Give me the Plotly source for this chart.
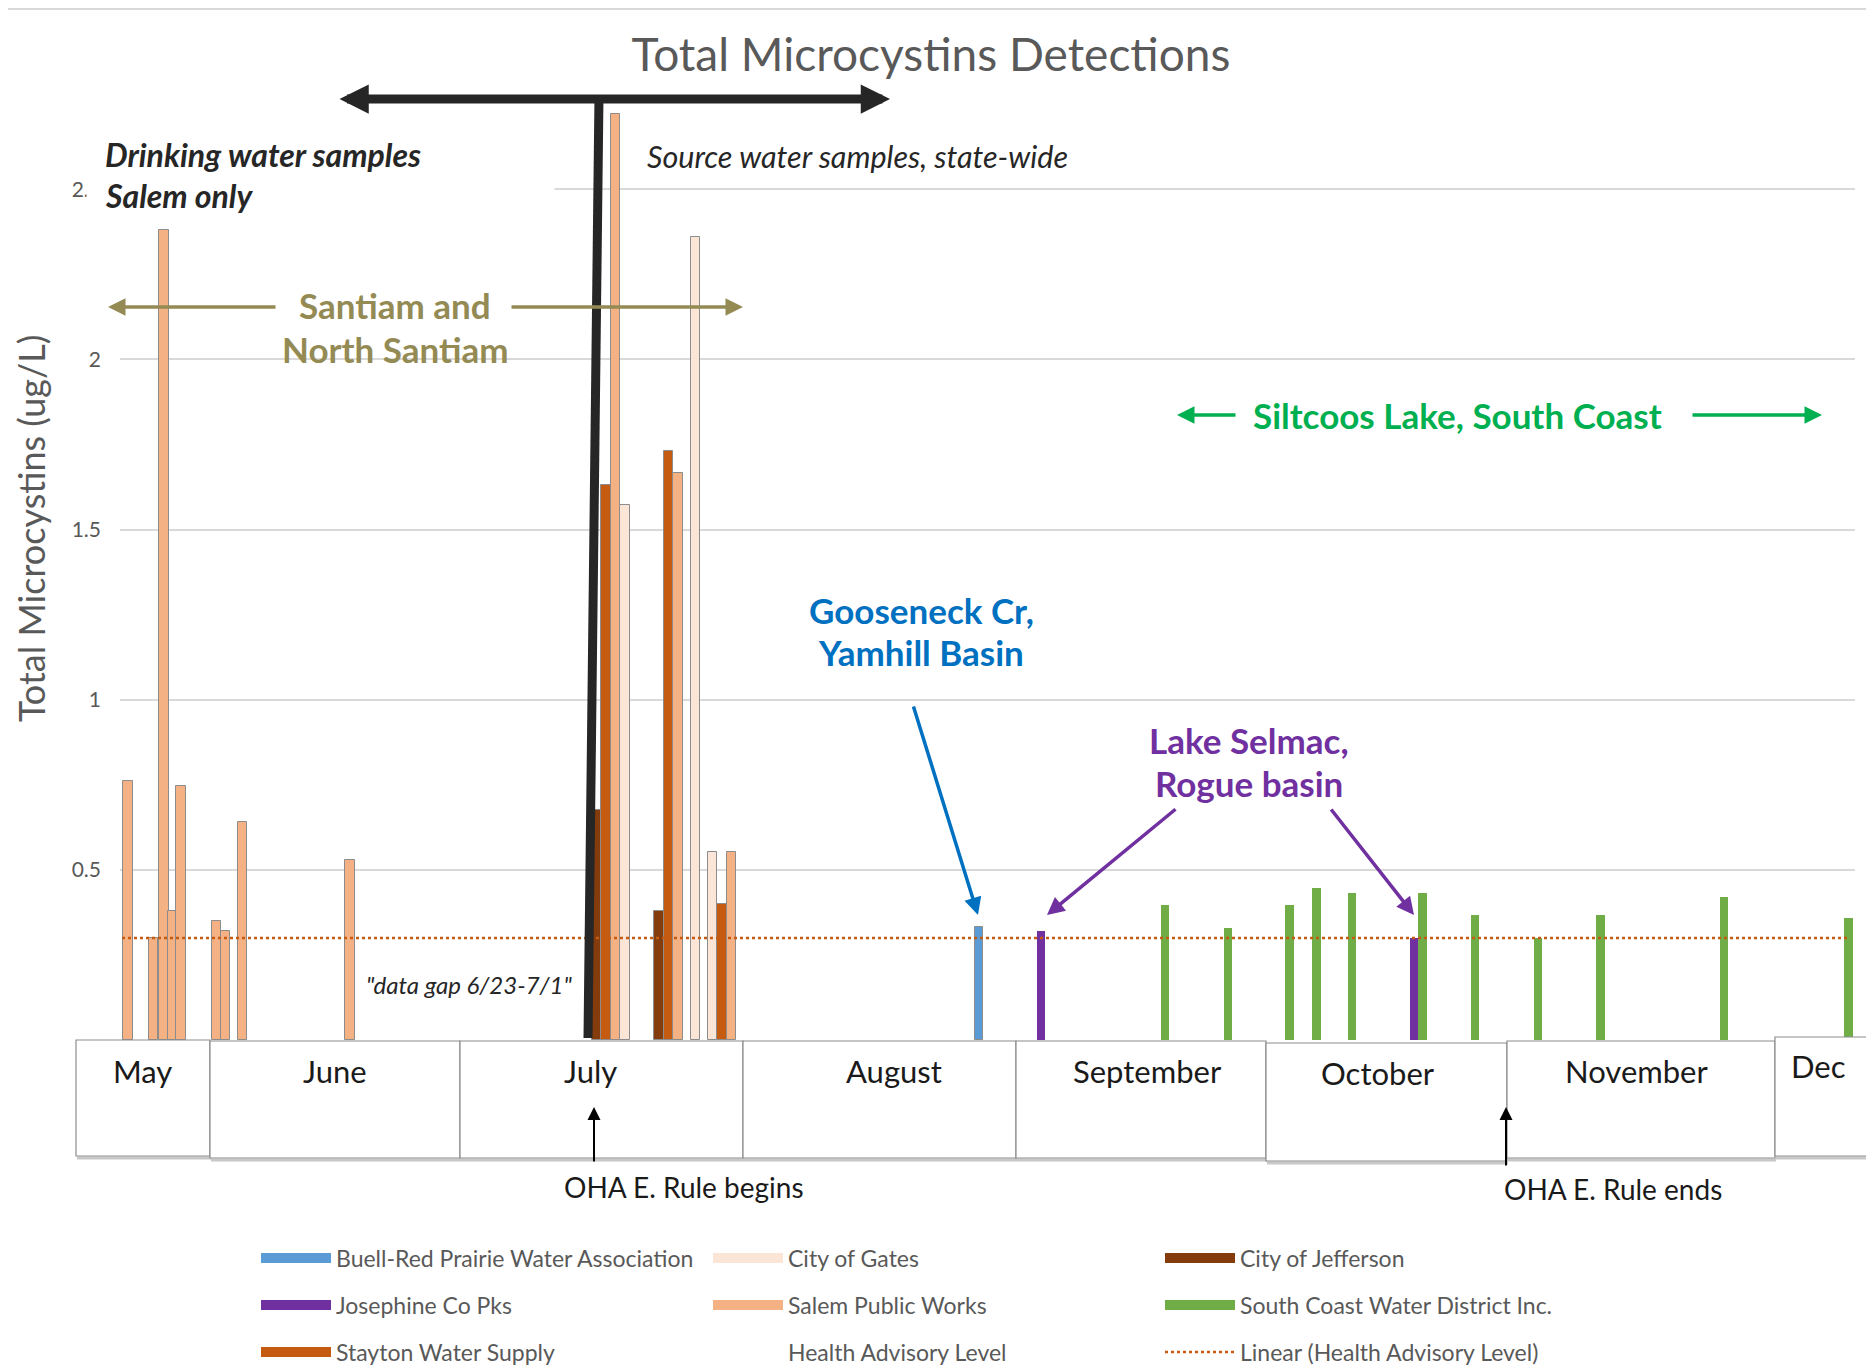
import plotly.graph_objects as go

# page is offset by the browser's 8px body margin; all px coordinates below are page px
OFF = 8
W, H = 1874, 1368
FW, FH = W - OFF, H - OFF
PL, PR, PT, PB = 120, 1855, 19, 1040   # plot area (page px)

# ---------------- data ----------------
# Position of each sample on the chart's timeline axis (chart units) and Total Microcystins (ug/L)
salem_pos = [12.8, 15.35, 16.4, 17.25, 18.1, 21.65, 22.55, 24.25, 35.0, 61.55, 67.8, 73.15]
salem_val = [0.76, 0.30, 2.38, 0.38, 0.745, 0.35, 0.32, 0.64, 0.53, 2.72, 1.667, 0.553]
stayton_pos = [60.6, 66.85, 72.2]
stayton_val = [1.63, 1.73, 0.40]
jefferson_pos = [59.65, 65.9]
jefferson_val = [0.675, 0.38]
gates_pos = [62.5, 69.55, 71.25]
gates_val = [1.573, 2.36, 0.553]
buell_pos = [97.9]
buell_val = [0.333]
josephine_pos = [104.1, 141.45]
josephine_val = [0.32, 0.30]
southcoast_pos = [116.5, 122.8, 128.95, 131.65, 135.2, 142.25, 147.5, 153.8, 160.05, 172.4, 184.85]
southcoast_val = [0.397, 0.328, 0.397, 0.448, 0.431, 0.431, 0.368, 0.301, 0.368, 0.419, 0.358]
health_advisory_level = 0.3
health_span = [12.2, 185.0]
x_range = [PL / 10, PR / 10]
y_ticks = [0.5, 1, 1.5, 2, 2.5, 3]
y_tick_text = ["0.5", "1", "1.5", "2", "2.5", "3"]
months = ["May", "June", "July", "August", "September", "October", "November", "Dec"]

# ---------------- styling ----------------
C_BUELL = "#5B9BD5"
C_GATES = "#FBE5D6"
C_JEFF = "#843C0C"
C_JOSE = "#7030A0"
C_SALEM = "#F4B183"
C_SCOAST = "#70AD47"
C_STAY = "#C55A11"
OUTLINE = "#8c8c8c"
FONT = "Lato"
GREY = "#595959"
DARK = "#262626"


def xp(p):
    return (p - PL) / (PR - PL)


def yp(p):
    return (PB - p) / (PB - PT)


fig = go.Figure()


def bars(name, pos, val, color, width, outline, group):
    fig.add_trace(go.Bar(
        x=pos, y=val, name=name, width=width, legendgroup=group, showlegend=False,
        marker=dict(color=color, line=dict(color=OUTLINE if outline else color,
                                           width=1 if outline else 0)),
    ))


bars("Salem Public Works", salem_pos, salem_val, C_SALEM, 0.95, True, "salem")
bars("Stayton Water Supply", stayton_pos, stayton_val, C_STAY, 0.95, True, "stayton")
bars("City of Jefferson", jefferson_pos, jefferson_val, C_JEFF, 0.95, True, "jeff")
bars("City of Gates", gates_pos, gates_val, C_GATES, 0.95, True, "gates")
bars("Buell-Red Prairie Water Association", buell_pos, buell_val, C_BUELL, 0.82, True, "buell")
bars("Josephine Co Pks", josephine_pos, josephine_val, C_JOSE, 0.82, False, "jose")
bars("South Coast Water District Inc.", southcoast_pos, southcoast_val, C_SCOAST, 0.82, False, "scoast")

# legend layout: one horizontal legend per row, three fixed-width columns
legend_row = {"buell": "legend", "gates": "legend", "jeff": "legend",
              "jose": "legend2", "salem": "legend2", "scoast": "legend2",
              "stayton": "legend3", "hal": "legend3", "lin": "legend3"}
rank = {"buell": 1, "gates": 2, "jeff": 3, "jose": 1, "salem": 2, "scoast": 3,
        "stayton": 1, "hal": 2, "lin": 3}

# Health Advisory Level (invisible series) and its linear trendline
fig.add_trace(go.Scatter(x=health_span, y=[health_advisory_level] * 2, mode="lines",
                         line=dict(width=0, color="rgba(0,0,0,0)"), name="Health Advisory Level",
                         legend=legend_row["hal"], legendgroup="hal", legendrank=rank["hal"],
                         hoverinfo="skip"))
fig.add_trace(go.Scatter(x=health_span, y=[health_advisory_level] * 2, mode="lines",
                         line=dict(width=2.5, color=C_STAY, dash="dot"),
                         name="Linear (Health Advisory Level)", legend=legend_row["lin"],
                         legendgroup="lin", legendrank=rank["lin"]))

# legend swatches (wide rectangles like the original)
legend_items = [
    ("Buell-Red Prairie Water Association", C_BUELL, "buell"),
    ("City of Gates", C_GATES, "gates"),
    ("City of Jefferson", C_JEFF, "jeff"),
    ("Josephine Co Pks", C_JOSE, "jose"),
    ("Salem Public Works", C_SALEM, "salem"),
    ("South Coast Water District Inc.", C_SCOAST, "scoast"),
    ("Stayton Water Supply", C_STAY, "stayton"),
]
for name, col, grp in legend_items:
    fig.add_trace(go.Scatter(x=[None], y=[None], mode="lines", name=name, legend=legend_row[grp],
                             legendgroup=grp, legendrank=rank[grp],
                             line=dict(color=col, width=12)))

annotations = []
shapes = []


def text(t, x, y, size, color=DARK, bold=False, italic=False, xanchor="center", angle=0):
    s = t
    if bold:
        s = "<b>" + s + "</b>"
    if italic:
        s = "<i>" + s + "</i>"
    annotations.append(dict(text=s, x=xp(x), y=yp(y), xref="paper", yref="paper",
                            xanchor=xanchor, yanchor="middle", showarrow=False, textangle=angle,
                            font=dict(family=FONT, size=size, color=color)))


def arrow(x0, y0, x1, y1, color, width, size, both=False, head=2):
    annotations.append(dict(text="", x=xp(x1), y=yp(y1), xref="paper", yref="paper",
                            ax=x0 - x1, ay=y0 - y1, axref="pixel", ayref="pixel",
                            showarrow=True, arrowhead=head, arrowsize=size, arrowwidth=width,
                            arrowcolor=color, arrowside="end+start" if both else "end",
                            startarrowhead=head, startarrowsize=size, standoff=0, startstandoff=0))


# y-axis title
text("Total Microcystins (ug/L)", 31, 529, 36, GREY, angle=-90)

# white text box hiding part of the 2.5 gridline / label
annotations.append(dict(text=" ", x=xp(86), y=yp(126), xref="paper", yref="paper",
                        xanchor="left", yanchor="top", width=467, height=96, borderpad=0,
                        bgcolor="white", showarrow=False, font=dict(size=10)))
text("Drinking water samples", 103, 154, 32, DARK, True, True, "left")
text("Salem only", 103, 195, 32, DARK, True, True, "left")
text("Source water samples, state-wide", 645, 156, 30.5, DARK, False, True, "left")

# big black T-arrow
arrow(338, 99, 890, 99, DARK, 9, 0.65, both=True)
shapes.append(dict(type="line", xref="paper", yref="paper", x0=xp(599), y0=yp(95),
                   x1=xp(588), y1=yp(1038), line=dict(color=DARK, width=9), layer="above"))

# Santiam
OLIVE = "#948A54"
text("Santiam and", 395, 305, 35, OLIVE, True)
text("North Santiam", 395, 349, 35, OLIVE, True)
arrow(277, 307, 108, 307, OLIVE, 3.5, 1.0)
arrow(510, 307, 743, 307, OLIVE, 3.5, 1.0)

# Siltcoos
GREEN = "#00B050"
text("Siltcoos Lake, South Coast", 1457, 415, 35, GREEN, True)
arrow(1237, 415, 1177, 415, GREEN, 3.5, 1.0)
arrow(1691, 415, 1822, 415, GREEN, 3.5, 1.0)

# Gooseneck
BLUE = "#0070C0"
text("Gooseneck Cr,", 921, 610, 35, BLUE, True)
text("Yamhill Basin", 921, 652, 35, BLUE, True)
arrow(913, 705, 978, 915, BLUE, 3.5, 1.0)

# Lake Selmac
PURPLE = "#7030A0"
text("Lake Selmac,", 1249, 740, 35, PURPLE, True)
text("Rogue basin", 1249, 783, 35, PURPLE, True)
arrow(1177, 808, 1047, 915, PURPLE, 3.5, 1.0)
arrow(1330, 808, 1414, 915, PURPLE, 3.5, 1.0)

text("\"data gap 6/23-7/1\"", 469, 984, 24, DARK, False, True)

# month boxes
month_edges = [(76, 210, 1040, 1156), (210, 460, 1041, 1158), (460, 743, 1041, 1158),
               (743, 1016, 1041, 1158), (1016, 1266, 1041, 1158), (1266, 1507, 1043, 1161),
               (1507, 1775, 1041, 1158), (1775, 1880, 1037, 1156)]
month_label_pos = [(142, 1071), (335, 1071), (590, 1071), (894, 1071), (1147, 1071),
                   (1378, 1073), (1636, 1071), (1818, 1066)]
for (x0, x1, y0, y1), m, (lx, ly) in zip(month_edges, months, month_label_pos):
    shapes.append(dict(type="line", xref="paper", yref="paper", x0=xp(x0 + 1), x1=xp(x1 + 1),
                       y0=yp(y1 + 2), y1=yp(y1 + 2), line=dict(color="#c8c8c8", width=3), layer="above"))
    shapes.append(dict(type="rect", xref="paper", yref="paper", x0=xp(x0), x1=xp(x1),
                       y0=yp(y1), y1=yp(y0), fillcolor="white",
                       line=dict(color="#8c8c8c", width=1.2), layer="above"))
    text(m, lx, ly, 31, "#1a1a1a")

# OHA emergency rule arrows
arrow(594, 1163, 594, 1107, "#000000", 2, 1.3)
arrow(1506, 1167, 1506, 1107, "#000000", 2, 1.3)
text("OHA E. Rule begins", 684, 1187, 28, "#1a1a1a")
text("OHA E. Rule ends", 1613, 1189, 28, "#1a1a1a")

# thin frame line at the very top
shapes.append(dict(type="line", xref="paper", yref="paper", x0=xp(OFF), x1=xp(W),
                   y0=yp(OFF + 1), y1=yp(OFF + 1), line=dict(color="#d9d9d9", width=2), layer="above"))

ITEMW = 70
COLW = 452
leg_common = dict(orientation="h", xref="container", yref="container", xanchor="left",
                  yanchor="middle", font=dict(family=FONT, size=23, color=GREY), itemwidth=ITEMW,
                  entrywidth=COLW - ITEMW - 15, entrywidthmode="pixels",
                  bgcolor="rgba(0,0,0,0)", traceorder="normal", x=(256 - OFF) / FW)
row_centers = [1258, 1305, 1352]

fig.update_layout(
    width=FW, height=FH,
    margin=dict(l=PL - OFF, r=W - PR, t=PT - OFF, b=H - PB, autoexpand=False),
    paper_bgcolor="white", plot_bgcolor="white",
    barmode="overlay", bargap=0,
    font=dict(family=FONT, color=GREY),
    showlegend=True,
    title=dict(text="Total Microcystins Detections", x=(931 - OFF) / FW, xref="container",
               y=1 - (55 - OFF) / FH, yref="container", xanchor="center", yanchor="middle",
               font=dict(family=FONT, size=46, color=GREY)),
    xaxis=dict(range=x_range, showgrid=False, zeroline=False, showline=False,
               showticklabels=False, ticks="", fixedrange=True),
    yaxis=dict(range=[0, 3], tickvals=y_ticks, ticktext=y_tick_text, showgrid=True,
               gridcolor="#d9d9d9", gridwidth=1.5, zeroline=False, showline=False,
               ticks="", ticklabelstandoff=18,
               tickfont=dict(family=FONT, size=21, color=GREY)),
    legend=dict(leg_common, y=1 - (row_centers[0] - OFF) / FH),
    legend2=dict(leg_common, y=1 - (row_centers[1] - OFF) / FH),
    legend3=dict(leg_common, y=1 - (row_centers[2] - OFF) / FH),
    annotations=annotations,
    shapes=shapes,
)

fig.write_html("out.html")
